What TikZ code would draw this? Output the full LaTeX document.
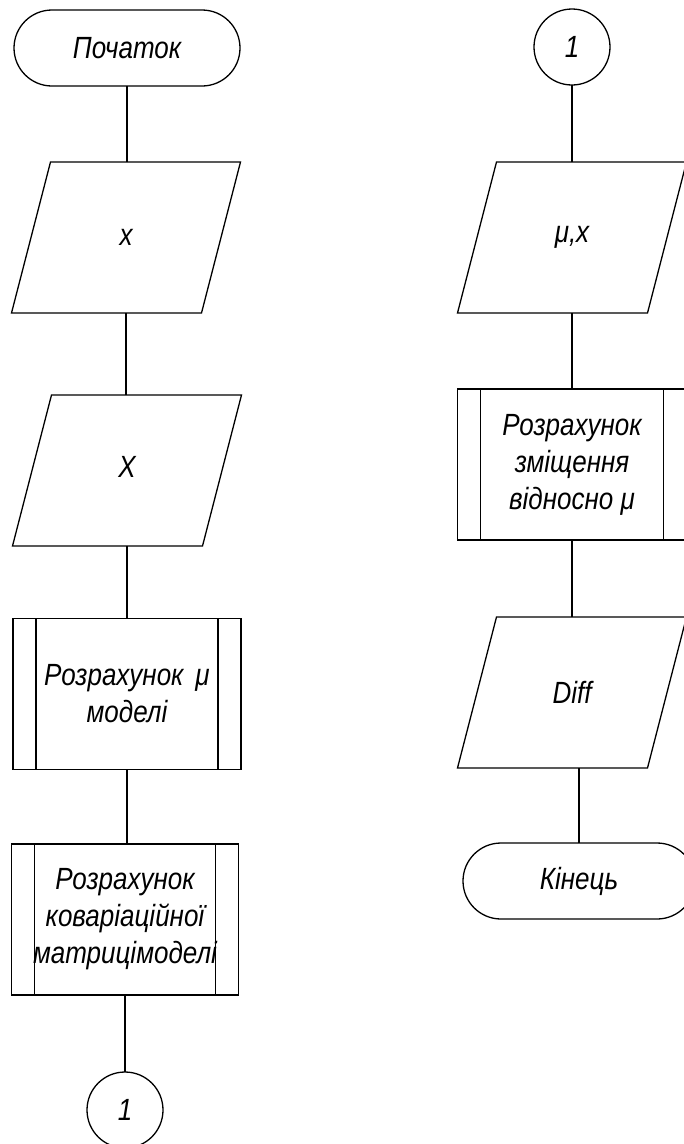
\documentclass[tikz,border=0pt]{standalone}
\usepackage{graphicx}
\usepackage{fontspec}
\setmainfont{Liberation Sans}
\usetikzlibrary{calc}
\newcommand\iopath[1]{\draw ([xshift=19.5pt]#1.north west) -- ([xshift=19.5pt]#1.north east) -- ([xshift=-19.5pt]#1.south east) -- ([xshift=-19.5pt]#1.south west) -- cycle;}
\newcommand\predlines[1]{\draw ([xshift=23pt]#1.north west) -- ([xshift=23pt]#1.south west);
  \draw ([xshift=-23pt]#1.north east) -- ([xshift=-23pt]#1.south east);}
\newcommand\tl[1]{\scalebox{1}[1.18]{#1}}
\begin{document}
\begin{tikzpicture}[x=1pt,y=-1pt, line width=1.3pt,
  every node/.style={inner sep=0pt, outer sep=0pt, font=\fontsize{26}{37}\selectfont\itshape, align=center},
  term/.style={draw, rounded corners=38pt, minimum width=226pt, minimum height=76pt},
  conn/.style={draw, circle, minimum size=76pt},
  iobox/.style={minimum width=190pt, minimum height=151pt},
  predef/.style={draw, minimum width=228pt, minimum height=151pt}]
\useasboundingbox (0,0) rectangle (684,1144);
% left column
\node[term] (start) at (127,48) {\tl{Початок}};
\node[iobox] (px) at (126,237.5) {\raisebox{-5pt}{\tl{x}}};
\iopath{px}
\node[iobox] (pX) at (127,470.5) {\raisebox{7pt}{\tl{X}}};
\iopath{pX}
\node[predef] (pred1) at (127,694) {\tl{Розрахунок\hspace{12pt}μ}\\\tl{моделі}};
\predlines{pred1}
\node[predef, minimum width=227pt] (pred2) at (125,919.5) {\tl{Розрахунок}\\\tl{коваріаційної}\\\tl{матрицімоделі}};
\predlines{pred2}
\node[conn] (c1) at (125,1110) {\tl{1}};
\draw (start.south) -- (start.south |- px.north);
\draw (px.south) -- (px.south |- pX.north);
\draw (pX.south) -- (pX.south |- pred1.north);
\draw (pred1.south) -- (pred1.south |- pred2.north);
\draw (pred2.south) -- (c1.north);
% right column
\node[conn] (c2) at (572,47) {\tl{1}};
\node[iobox] (pmx) at (572,237.5) {\raisebox{-6pt}{\tl{μ,x}}};
\iopath{pmx}
\node[predef, minimum width=229pt] (pred3) at (572,464.5) {\tl{Розрахунок}\\\tl{зміщення}\\\tl{відносно μ}};
\predlines{pred3}
\node[iobox] (pdiff) at (572,692.5) {\tl{Diff}};
\iopath{pdiff}
\node[term, minimum width=232pt] (end) at (579,881) {\raisebox{-3pt}{\tl{Кінець}}};
\draw (c2.south) -- (c2.south |- pmx.north);
\draw (pmx.south) -- (pmx.south |- pred3.north);
\draw (pred3.south) -- (pred3.south |- pdiff.north);
\draw (end.north) -- (end.north |- pdiff.south);
\end{tikzpicture}
\end{document}
